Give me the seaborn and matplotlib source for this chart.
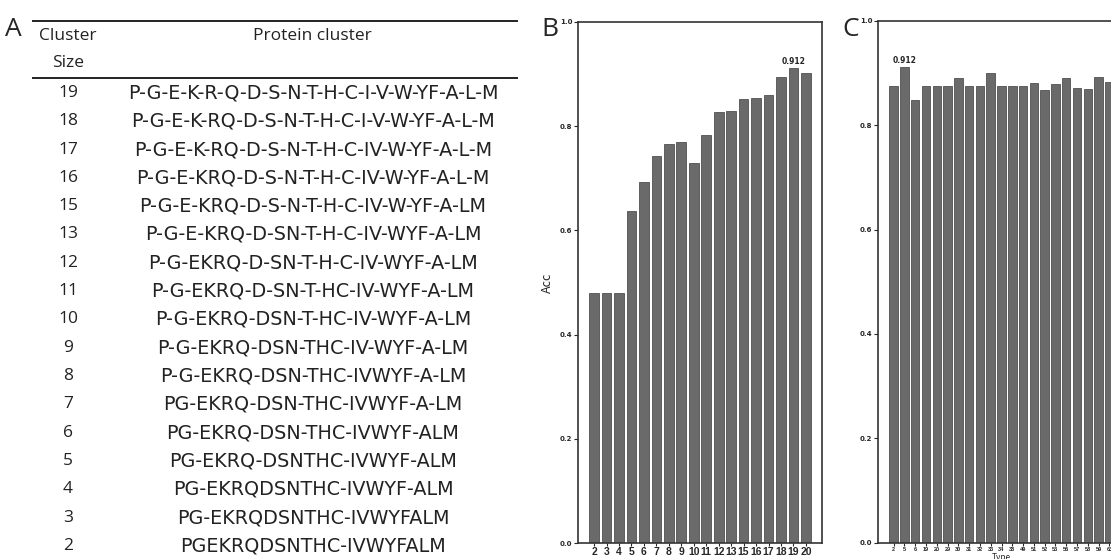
import numpy as np
import pandas as pd
import matplotlib
matplotlib.use("Agg")
import matplotlib.pyplot as plt
import seaborn as sns

# Panel A: protein clusters
cluster_sizes = [19, 18, 17, 16, 15, 13, 12, 11, 10, 9, 8, 7, 6, 5, 4, 3, 2]
protein_clusters = [
    "P-G-E-K-R-Q-D-S-N-T-H-C-I-V-W-YF-A-L-M",
    "P-G-E-K-RQ-D-S-N-T-H-C-I-V-W-YF-A-L-M",
    "P-G-E-K-RQ-D-S-N-T-H-C-IV-W-YF-A-L-M",
    "P-G-E-KRQ-D-S-N-T-H-C-IV-W-YF-A-L-M",
    "P-G-E-KRQ-D-S-N-T-H-C-IV-W-YF-A-LM",
    "P-G-E-KRQ-D-SN-T-H-C-IV-WYF-A-LM",
    "P-G-EKRQ-D-SN-T-H-C-IV-WYF-A-LM",
    "P-G-EKRQ-D-SN-T-HC-IV-WYF-A-LM",
    "P-G-EKRQ-DSN-T-HC-IV-WYF-A-LM",
    "P-G-EKRQ-DSN-THC-IV-WYF-A-LM",
    "P-G-EKRQ-DSN-THC-IVWYF-A-LM",
    "PG-EKRQ-DSN-THC-IVWYF-A-LM",
    "PG-EKRQ-DSN-THC-IVWYF-ALM",
    "PG-EKRQ-DSNTHC-IVWYF-ALM",
    "PG-EKRQDSNTHC-IVWYF-ALM",
    "PG-EKRQDSNTHC-IVWYFALM",
    "PGEKRQDSNTHC-IVWYFALM",
]

# Panel B: accuracy per cluster size
b_labels = ["2", "3", "4", "5", "6", "7", "8", "9", "10", "11", "12", "13",
            "15", "16", "17", "18", "19", "20"]
b_acc = [0.479, 0.479, 0.479, 0.638, 0.693, 0.742, 0.765, 0.769, 0.730,
         0.784, 0.827, 0.830, 0.852, 0.855, 0.860, 0.894, 0.912, 0.903]

# Panel C: accuracy per type
c_labels = ["2", "5", "6", "19", "20", "29", "30", "31", "32", "33", "34",
            "38", "49", "51", "52", "53", "56", "57", "58", "59", "63"]
c_acc = [0.875, 0.912, 0.849, 0.875, 0.875, 0.875, 0.890, 0.875, 0.875,
         0.900, 0.875, 0.875, 0.875, 0.881, 0.867, 0.878, 0.890, 0.872,
         0.869, 0.893, 0.882]

sns.set_theme(style="ticks")
plt.rcParams['font.family'] = ['Noto Sans CJK SC', 'DejaVu Sans']

W, H = 1111, 559
fig = plt.figure(figsize=(W / 100, H / 100), dpi=100)

# ---- panel A: table drawn in pixel coordinates
ax_a = fig.add_axes([0, 0, 540 / W, 1])
ax_a.set_xlim(0, 540)
ax_a.set_ylim(H, 0)
ax_a.axis("off")
head_font = 'Open Sans'
seq_font = 'DejaVu Sans'
tcol = "#222222"
ax_a.plot([32, 518], [20.5, 20.5], color=tcol, lw=1.4, solid_capstyle="butt")
ax_a.plot([32, 518], [77.5, 77.5], color=tcol, lw=1.4, solid_capstyle="butt")
ax_a.text(68, 36, "Cluster", ha="center", va="center", fontsize=12.5, family=head_font, color=tcol)
ax_a.text(68, 63, "Size", ha="center", va="center", fontsize=12.5, family=head_font, color=tcol)
ax_a.text(312, 36, "Protein cluster", ha="center", va="center", fontsize=12.5, family=head_font, color=tcol)
for i, (size, prot) in enumerate(zip(cluster_sizes, protein_clusters)):
    y = 93 + i * 28.3
    ax_a.text(68, y, str(size), ha="center", va="center", fontsize=12.5, family=head_font, color=tcol)
    ax_a.text(313, y, prot, ha="center", va="center", fontsize=13.8, family=seq_font, color=tcol)
fig.text(5 / W, 1 - 29 / H, "A", fontsize=19, family="Open Sans", va="center", ha="left")

bar_color = "#6a6a6a"


def bar_panel(rect, labels, values, xtick_size, best_idx):
    ax = fig.add_axes(rect)
    df = pd.DataFrame({"x": labels, "acc": values})
    sns.barplot(data=df, x="x", y="acc", order=labels, color=bar_color,
                saturation=1, width=0.78, edgecolor="#505050", linewidth=0.6, ax=ax)
    # same padding as plain matplotlib bars
    pad = 0.4 + 0.05 * (len(labels) - 0.2)
    ax.set_xlim(-pad, len(labels) - 1 + pad)
    ax.set_ylim(0, 1.0)
    ax.set_yticks([0.0, 0.2, 0.4, 0.6, 0.8, 1.0])
    ax.set_yticklabels(["0.0", "0.2", "0.4", "0.6", "0.8", "1.0"])
    ax.tick_params(axis="y", labelsize=5, length=3, width=0.8, pad=1)
    ax.tick_params(axis="x", labelsize=xtick_size, length=2.5, width=0.8, pad=0.5)
    for lab in ax.get_yticklabels():
        lab.set_fontweight("bold")
        lab.set_family("DejaVu Sans")
    for lab in ax.get_xticklabels():
        lab.set_fontweight("bold")
        lab.set_family("Liberation Sans")
    for sp in ax.spines.values():
        sp.set_visible(True)
        sp.set_color("#333333")
        sp.set_linewidth(1.2)
    ax.set_xlabel("")
    ax.set_ylabel("")
    ax.text(best_idx, values[best_idx] + 0.004, f"{values[best_idx]:.3f}",
            ha="center", va="bottom", fontsize=5.5, fontweight="bold", family="DejaVu Sans")
    return ax


ax_b = bar_panel([578 / W, 1 - 543 / H, 244 / W, 521 / H], b_labels, b_acc, 7.5,
                 int(np.argmax(b_acc)))
ax_b.set_ylabel("Acc", fontsize=9, labelpad=4)
fig.text(541 / W, 1 - 29 / H, "B", fontsize=19, family="Open Sans", va="center", ha="left")

ax_c = bar_panel([878 / W, 1 - 542.7 / H, 247 / W, 522 / H], c_labels, c_acc, 4,
                 int(np.argmax(c_acc)))
# the x label sits at the bottom edge and is clipped there, as in the source figure
ax_c.set_xlabel("Type", fontsize=6, labelpad=1)
fig.text(842 / W, 1 - 29 / H, "C", fontsize=19, family="Open Sans", va="center", ha="left")

fig.savefig("out.png", dpi=100)
